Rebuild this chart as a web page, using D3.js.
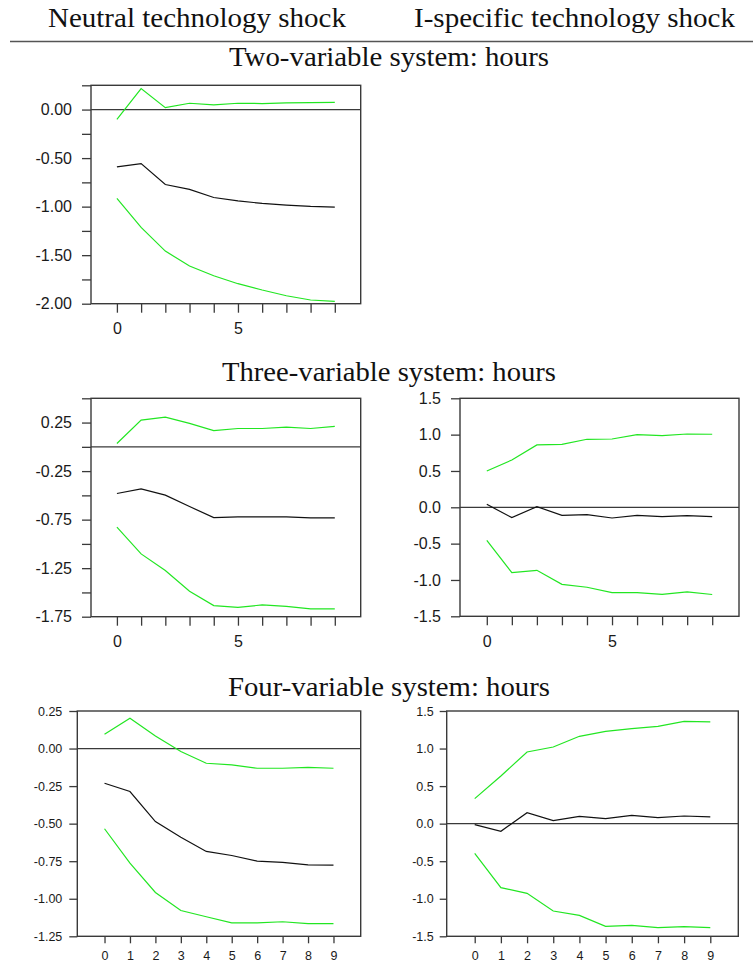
<!DOCTYPE html>
<html><head><meta charset="utf-8">
<script src="https://cdn.jsdelivr.net/npm/d3@7"></script>
<style>
body{margin:0;background:#fff} svg{display:block}
.serif{font-family:"Liberation Serif","Times New Roman",Times,serif}
.sans{font-family:"Liberation Sans",Arial,Helvetica,sans-serif}
</style>
</head><body>
<svg id="c" width="753" height="964"></svg>
<script>
// ---------- DATA ----------
const horizon = [0,1,2,3,4,5,6,7,8,9];
const columnHeaders = ["Neutral technology shock", "I-specific technology shock"];
const sectionTitles = ["Two-variable system: hours", "Three-variable system: hours", "Four-variable system: hours"];

// Two-variable system, neutral shock
const twoNeutralUpper = [-0.10, 0.216, 0.02, 0.065, 0.048, 0.065, 0.062, 0.069, 0.072, 0.075];
const twoNeutralPoint = [-0.59, -0.556, -0.772, -0.823, -0.906, -0.94, -0.967, -0.985, -0.998, -1.005];
const twoNeutralLower = [-0.916, -1.214, -1.458, -1.612, -1.712, -1.794, -1.859, -1.918, -1.962, -1.976];

// Three-variable system, neutral shock
const threeNeutralUpper = [0.034, 0.275, 0.306, 0.241, 0.168, 0.189, 0.189, 0.203, 0.189, 0.21];
const threeNeutralPoint = [-0.481, -0.433, -0.498, -0.615, -0.729, -0.722, -0.722, -0.722, -0.732, -0.732];
const threeNeutralLower = [-0.828, -1.103, -1.275, -1.488, -1.636, -1.653, -1.629, -1.643, -1.67, -1.67];

// Three-variable system, I-specific shock
const threeISpecUpper = [0.50, 0.651, 0.858, 0.867, 0.936, 0.94, 1.0, 0.986, 1.009, 1.005];
const threeISpecPoint = [0.041, -0.142, 0.009, -0.11, -0.101, -0.147, -0.11, -0.128, -0.115, -0.128];
const threeISpecLower = [-0.454, -0.899, -0.867, -1.06, -1.10, -1.174, -1.174, -1.197, -1.165, -1.20];

// Four-variable system, neutral shock
const fourNeutralUpper = [0.095, 0.202, 0.084, -0.02, -0.098, -0.109, -0.131, -0.131, -0.126, -0.131];
const fourNeutralPoint = [-0.231, -0.286, -0.486, -0.59, -0.685, -0.712, -0.749, -0.758, -0.774, -0.776];
const fourNeutralLower = [-0.534, -0.763, -0.958, -1.078, -1.12, -1.16, -1.16, -1.153, -1.166, -1.166];

// Four-variable system, I-specific shock
const fourISpecUpper = [0.333, 0.635, 0.954, 1.021, 1.163, 1.229, 1.265, 1.296, 1.363, 1.354];
const fourISpecPoint = [-0.013, -0.102, 0.146, 0.04, 0.098, 0.067, 0.111, 0.08, 0.102, 0.089];
const fourISpecLower = [-0.395, -0.852, -0.928, -1.163, -1.221, -1.367, -1.354, -1.385, -1.372, -1.385];

// Tick values
const ticksQuarterA = [-2.0,-1.75,-1.5,-1.25,-1.0,-0.75,-0.5,-0.25,0,0.25];
const labelsA = [-2.0,-1.5,-1.0,-0.5,0];
const ticksQuarterB = [-1.75,-1.5,-1.25,-1.0,-0.75,-0.5,-0.25,0,0.25,0.5];
const labelsB = [-1.75,-1.25,-0.75,-0.25,0.25];
const ticksHalf = [-1.5,-1.0,-0.5,0,0.5,1.0,1.5];
const ticksQuarterC = [-1.25,-1.0,-0.75,-0.5,-0.25,0,0.25];
const xLabelsSparse = [0,5];

// ---------- DRAW ----------
const svg = d3.select("#c");
const GREEN = "#22e622", BLACK = "#111", FRAME = "#3a3a3a";
const loc = d3.formatLocale({decimal: ".", thousands: ",", grouping: [3], currency: ["", ""], minus: "-"});

// header
const hdr = [{t: columnHeaders[0], cx: 197, w: 298}, {t: columnHeaders[1], cx: 574.5, w: 321}];
hdr.forEach(h => {
  svg.append("text").attr("class","serif").attr("x", h.cx).attr("y", 27).attr("text-anchor","middle")
    .attr("font-size",27).attr("textLength", h.w).attr("lengthAdjust","spacingAndGlyphs")
    .attr("fill","#111").text(h.t);
});
svg.append("line").attr("x1",10).attr("x2",753).attr("y1",41.5).attr("y2",41.5)
  .attr("stroke","#555").attr("stroke-width",1.6);

const titles = [{t: sectionTitles[0], y: 66, w: 320}, {t: sectionTitles[1], y: 381, w: 334}, {t: sectionTitles[2], y: 696, w: 322}];
titles.forEach(s => {
  svg.append("text").attr("class","serif").attr("x", 389).attr("y", s.y).attr("text-anchor","middle")
    .attr("font-size",27).attr("textLength", s.w).attr("lengthAdjust","spacingAndGlyphs")
    .attr("fill","#111").text(s.t);
});

function panel(c) {
  const x = d3.scaleLinear().domain([-1.07, 10.07]).range([c.left, c.right]);
  const y = d3.scaleLinear().domain(c.yDomain).range([c.bottom, c.top]);
  const g = svg.append("g");
  const near = (a, b) => Math.abs(a - b) < 1e-6;
  const fmt = loc.format(c.yFmt);
  const yAxis = d3.axisLeft(y).tickValues(c.yTicks).tickSize(c.tickLen).tickPadding(c.tickPad)
    .tickFormat(d => c.yLabels.some(v => near(v, d)) ? fmt(d) : "");
  const ya = g.append("g").attr("transform", `translate(${c.left},0)`).call(yAxis);
  const xAxis = d3.axisBottom(x).tickValues(horizon).tickSize(c.xTickLen).tickPadding(c.xPad)
    .tickFormat(d => c.xLabels.includes(d) ? d : "");
  const xa = g.append("g").attr("transform", `translate(0,${c.bottom})`).call(xAxis);
  [ya, xa].forEach(a => {
    a.attr("font-family", null);
    a.select(".domain").remove();
    a.selectAll("line").attr("stroke", FRAME).attr("stroke-width", 1.3);
    a.selectAll("text").attr("class","sans").attr("font-size", c.fs).attr("fill","#1a1a1a");
  });
  g.append("rect").attr("x", c.left).attr("y", c.top).attr("width", c.right - c.left)
    .attr("height", c.bottom - c.top).attr("fill","none").attr("stroke", FRAME).attr("stroke-width", 1.4);
  g.append("line").attr("x1", c.left).attr("x2", c.right).attr("y1", y(0)).attr("y2", y(0))
    .attr("stroke", FRAME).attr("stroke-width", 1.3);
  const line = d3.line().x((d, i) => x(horizon[i])).y(d => y(d));
  c.series.forEach(s => {
    g.append("path").attr("d", line(s.v)).attr("fill","none").attr("stroke", s.col).attr("stroke-width", 1.2);
  });
}

panel({left: 91, right: 360.7, top: 85.3, bottom: 303.7, yDomain: [-2.0, 0.25],
  yTicks: ticksQuarterA, yLabels: labelsA, yFmt: ".2f", xLabels: xLabelsSparse,
  fs: 16, tickLen: 9, tickPad: 10, xTickLen: 9, xPad: 10,
  series: [{v: twoNeutralUpper, col: GREEN}, {v: twoNeutralPoint, col: BLACK}, {v: twoNeutralLower, col: GREEN}]});

panel({left: 91, right: 360.7, top: 398.3, bottom: 616.7, yDomain: [-1.75, 0.5],
  yTicks: ticksQuarterB, yLabels: labelsB, yFmt: ".2f", xLabels: xLabelsSparse,
  fs: 16, tickLen: 9, tickPad: 10, xTickLen: 9, xPad: 10,
  series: [{v: threeNeutralUpper, col: GREEN}, {v: threeNeutralPoint, col: BLACK}, {v: threeNeutralLower, col: GREEN}]});

panel({left: 460, right: 739, top: 398.3, bottom: 616.3, yDomain: [-1.5, 1.5],
  yTicks: ticksHalf, yLabels: ticksHalf, yFmt: ".1f", xLabels: xLabelsSparse,
  fs: 16, tickLen: 9, tickPad: 10, xTickLen: 9, xPad: 10,
  series: [{v: threeISpecUpper, col: GREEN}, {v: threeISpecPoint, col: BLACK}, {v: threeISpecLower, col: GREEN}]});

panel({left: 77.3, right: 360.7, top: 711, bottom: 936.3, yDomain: [-1.25, 0.25],
  yTicks: ticksQuarterC, yLabels: ticksQuarterC, yFmt: ".2f", xLabels: horizon,
  fs: 12.5, tickLen: 8, tickPad: 7, xTickLen: 7, xPad: 8,
  series: [{v: fourNeutralUpper, col: GREEN}, {v: fourNeutralPoint, col: BLACK}, {v: fourNeutralLower, col: GREEN}]});

panel({left: 446.7, right: 738.3, top: 711, bottom: 936.3, yDomain: [-1.5, 1.5],
  yTicks: ticksHalf, yLabels: ticksHalf, yFmt: ".1f", xLabels: horizon,
  fs: 12.5, tickLen: 7, tickPad: 6, xTickLen: 7, xPad: 8,
  series: [{v: fourISpecUpper, col: GREEN}, {v: fourISpecPoint, col: BLACK}, {v: fourISpecLower, col: GREEN}]});
</script>
</body></html>
